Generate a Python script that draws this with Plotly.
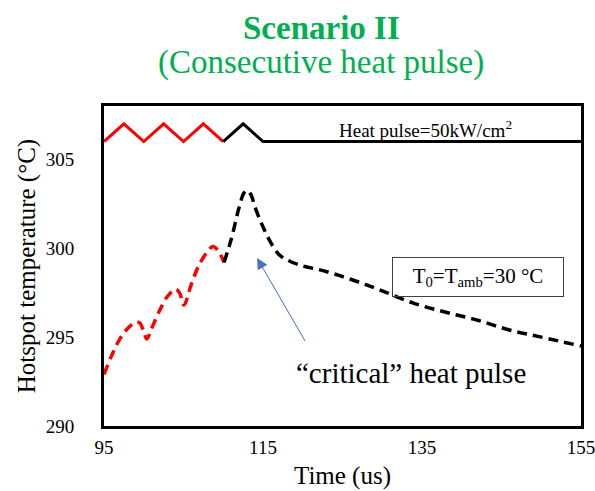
import plotly.graph_objects as go

# heat pulse signal (top trace)
pulse_t_red = [95, 97.5, 100, 102.5, 105, 107.5, 110]
pulse_v_red = [306.0, 307.0, 306.0, 307.0, 306.0, 307.0, 306.0]
pulse_t_blk = [110, 112.5, 115, 155]
pulse_v_blk = [306.0, 307.0, 306.0, 306.0]

# hotspot temperature
temp_t_red = [95, 96, 97, 98, 99, 99.5, 100, 100.4, 101, 102, 103, 104, 104.5, 105.05,
              106, 107, 108, 108.7, 109.3, 110.1]
temp_v_red = [292.9, 294.0, 294.9, 295.5, 295.85, 295.8, 295.3, 294.9, 295.5, 296.5, 297.3,
              297.7, 297.5, 296.8, 298.0, 299.1, 299.8, 300.1, 299.9, 299.2]
temp_t_blk = [110.1, 111, 112, 112.6, 113, 113.5, 114, 115, 116, 117, 118, 120, 122, 124,
              127, 130, 134, 138, 142, 146, 150, 155]
temp_v_blk = [299.2, 300.5, 302.3, 303.1, 303.25, 303.0, 302.3, 301.2, 300.3, 299.65, 299.35,
              299.0, 298.8, 298.55, 298.1, 297.6, 296.9, 296.4, 295.95, 295.4, 295.0, 294.5]

x_ticks = [95, 115, 135, 155]
y_ticks = [290, 295, 300, 305]

FONT = "Liberation Serif"
GREEN = "#00B050"

fig = go.Figure()
fig.add_trace(go.Scatter(x=pulse_t_red, y=pulse_v_red, mode="lines",
                         line=dict(color="#FF0000", width=3)))
fig.add_trace(go.Scatter(x=pulse_t_blk, y=pulse_v_blk, mode="lines",
                         line=dict(color="#000000", width=3)))
fig.add_trace(go.Scatter(x=temp_t_red, y=temp_v_red, mode="lines",
                         line=dict(color="#FF0000", width=3.5, dash="10px,6px", shape="spline")))
fig.add_trace(go.Scatter(x=temp_t_blk, y=temp_v_blk, mode="lines",
                         line=dict(color="#000000", width=3.5, dash="10px,6px", shape="spline")))

# titles
fig.add_annotation(xref="paper", yref="paper", x=0.457, y=1.245, xanchor="center", yanchor="middle",
                   text="<b>Scenario II</b>",
                   showarrow=False, font=dict(family=FONT, size=33, color=GREEN))
fig.add_annotation(xref="paper", yref="paper", x=0.455, y=1.135, xanchor="center", yanchor="middle",
                   text="(Consecutive heat pulse)",
                   showarrow=False, font=dict(family=FONT, size=33, color=GREEN))

fig.add_annotation(x=135.5, y=306.73, text="Heat pulse=50kW/cm<sup>2</sup>", showarrow=False,
                   font=dict(family=FONT, size=19, color="black"))
fig.add_annotation(x=142.0, y=298.4, text="T<sub>0</sub>=T<sub>amb</sub>=30 °C", showarrow=False,
                   font=dict(family=FONT, size=21, color="black"),
                   bordercolor="#404040", borderwidth=1, borderpad=6, width=158, height=26)
fig.add_annotation(x=114.25, y=299.45, ax=120.4, ay=294.7, xref="x", yref="y", axref="x", ayref="y",
                   text="", showarrow=True, arrowhead=2, arrowsize=2.2, arrowwidth=1,
                   arrowcolor="#4472C4")
fig.add_annotation(x=133.67, y=293.0, text="“critical” heat pulse", showarrow=False,
                   font=dict(family=FONT, size=29, color="black"))

fig.update_layout(
    width=595, height=491,
    margin=dict(l=104, r=14, t=106, b=65),
    paper_bgcolor="white", plot_bgcolor="white",
    showlegend=False,
    xaxis=dict(range=[95, 155], tickvals=x_ticks, showgrid=False, zeroline=False,
               showline=True, linewidth=3, linecolor="black", mirror=True,
               ticks="", ticklabelstandoff=2, automargin=False,
               ticklabeloverflow="allow",
               tickfont=dict(family=FONT, size=19, color="black"),
               title=dict(text="Time (us)", font=dict(family=FONT, size=25, color="black"),
                          standoff=10)),
    yaxis=dict(range=[290, 308], tickvals=y_ticks, showgrid=False, zeroline=False,
               showline=True, linewidth=3, linecolor="black", mirror=True,
               ticks="", ticklabelstandoff=23, automargin=False,
               ticklabeloverflow="allow",
               tickfont=dict(family=FONT, size=19, color="black"),
               title=dict(text="Hotspot temperature (°C)",
                          font=dict(family=FONT, size=25, color="black"), standoff=3)),
)

fig.write_html("out.html")
